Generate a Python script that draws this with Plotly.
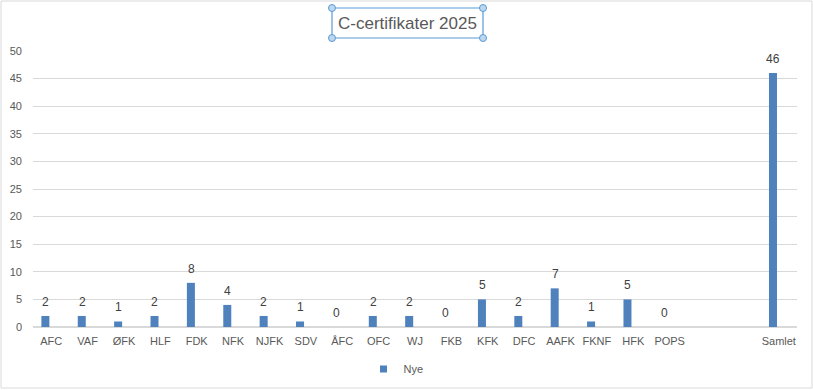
import plotly.graph_objects as go

categories = ["AFC", "VAF", "ØFK", "HLF", "FDK", "NFK", "NJFK", "SDV", "ÅFC", "OFC",
              "WJ", "FKB", "KFK", "DFC", "AAFK", "FKNF", "HFK", "POPS", " ", "  ", "Samlet"]
nye = [2, 2, 1, 2, 8, 4, 2, 1, 0, 2, 2, 0, 5, 2, 7, 1, 5, 0, None, None, 46]
y_ticks = list(range(0, 51, 5))
series_name = "Nye"
title_text = "C-certifikater 2025"

L, R, T, B = 33, 797, 51, 327
W, H = 813, 390
pw, ph = R - L, B - T

def px(x):
    return (x - L) / pw

def py(y):
    return (B - y) / ph

bar_color = "#4f81bd"
font_family = "Liberation Sans, Arial, sans-serif"

fig = go.Figure()
fig.add_trace(go.Bar(
    x=categories, y=nye, name=series_name,
    marker=dict(color=bar_color, line=dict(width=0)),
    width=0.22, offset=-0.27,
    showlegend=False, hoverinfo="x+y",
))
fig.add_trace(go.Scatter(
    x=[None], y=[None], mode="markers", name=series_name,
    marker=dict(symbol="square", size=7, color=bar_color),
    showlegend=True,
))

annotations = []
for c, v in zip(categories, nye):
    if v is None:
        continue
    annotations.append(dict(x=c, y=v, xref="x", yref="y", text=str(v), showarrow=False,
                            yanchor="bottom", xanchor="center", xshift=-5.5, yshift=5,
                            font=dict(size=12, color="#404040", family=font_family)))

shapes = []
# outer chart border
shapes.append(dict(type="rect", xref="paper", yref="paper",
                   x0=px(1), x1=px(812), y0=py(1), y1=py(388),
                   line=dict(color="#d9d9d9", width=1), fillcolor="rgba(0,0,0,0)", layer="below"))
# title selection box
bx0, bx1, by0, by1 = 332, 483, 8, 38
shapes.append(dict(type="rect", xref="paper", yref="paper",
                   x0=px(bx0), x1=px(bx1), y0=py(by0), y1=py(by1),
                   line=dict(color="#5b9bd5", width=1.2), fillcolor="rgba(0,0,0,0)"))
for cx in (bx0, bx1):
    for cy in (by0, by1):
        shapes.append(dict(type="circle", xref="paper", yref="paper",
                           x0=px(cx - 3.5), x1=px(cx + 3.5), y0=py(cy - 3.5), y1=py(cy + 3.5),
                           line=dict(color="#5b9bd5", width=1), fillcolor="#bdd7ee"))

fig.update_layout(
    width=W, height=H,
    margin=dict(l=L, r=W - R, t=T, b=H - B, pad=0, autoexpand=False),
    paper_bgcolor="white", plot_bgcolor="white",
    font=dict(family=font_family, color="#595959", size=11),
    title=dict(text=title_text, x=px(407.5), xref="paper", xanchor="center",
               y=1 - 23 / H, yref="container", yanchor="middle",
               font=dict(size=17, color="#595959", family=font_family)),
    bargap=0.4,
    shapes=shapes,
    annotations=annotations,
    legend=dict(orientation="h", x=px(396), xanchor="center", y=py(369), yanchor="middle",
                font=dict(size=11, color="#595959"), itemwidth=30, bgcolor="rgba(0,0,0,0)"),
    xaxis=dict(type="category", categoryorder="array", categoryarray=categories,
               range=[-0.5, len(categories) - 0.5], automargin=False,
               showgrid=False, showline=True, linecolor="#d9d9d9", linewidth=1,
               ticks="", tickfont=dict(size=11, color="#595959"), ticklabelstandoff=4),
    yaxis=dict(range=[0, 50], tickvals=y_ticks, showgrid=True, gridcolor="#d9d9d9", gridwidth=1,
               zeroline=True, zerolinecolor="#d9d9d9", showline=False, automargin=False,
               ticks="", tickfont=dict(size=11, color="#595959"), ticklabelstandoff=10),
)

fig.write_html("out.html", config={"displayModeBar": False},
               post_script="document.body.style.margin='0';")
